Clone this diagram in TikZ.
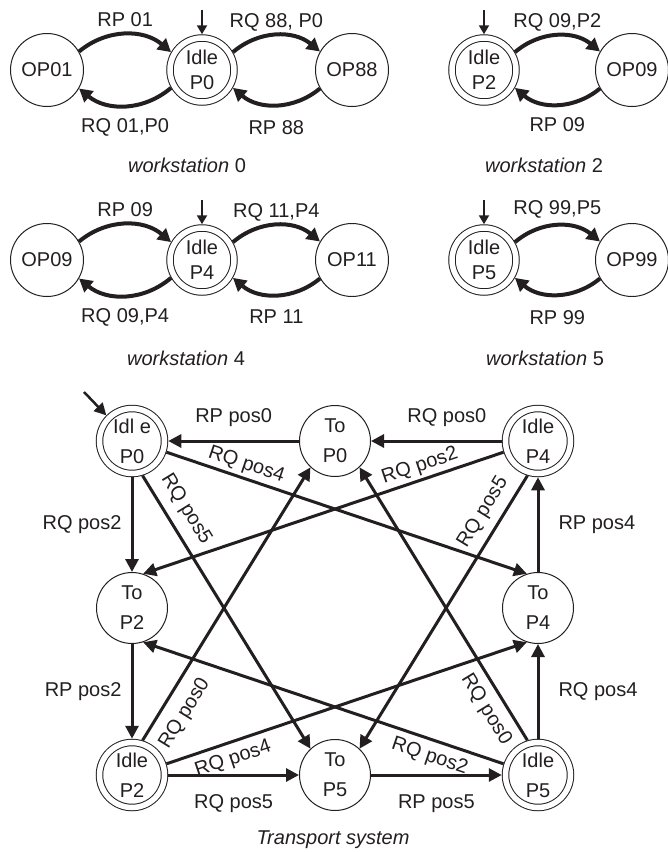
\documentclass[tikz,border=0pt]{standalone}
\usepackage{fontspec}
\setmainfont{Liberation Sans}
\usetikzlibrary{arrows.meta}
\definecolor{ink}{RGB}{35,31,32}

\begin{document}
\begin{tikzpicture}[x=1pt, y=-1pt,
  every node/.style={text=ink},
  opnode/.style={draw=ink, circle, line width=1pt, minimum size=73pt, inner sep=0pt, align=center, font=\fontsize{20}{25}\selectfont},
  idlenode/.style={opnode, double, double distance=5.5pt, minimum size=64pt, outer sep=3.75pt},
  tnode/.style={opnode, minimum size=71pt, font=\fontsize{20}{30}\selectfont},
  tidle/.style={idlenode, minimum size=65pt, font=\fontsize{20}{30}\selectfont},
  lbl/.style={font=\fontsize{20}{24}\selectfont, inner sep=1pt, text height=14.5pt, text depth=4pt},
  wscap/.style={font=\fontsize{20}{24}\selectfont},
  warr/.style={draw=ink, line width=4pt, -{Triangle[length=13pt,width=14pt]}},
  tarr/.style={draw=ink, line width=3pt, -{Triangle[length=13pt,width=13pt]}},
  startarr/.style={draw=ink, line width=2pt, -{Triangle[length=9pt,width=10pt]}}
]
\useasboundingbox (0,0) rectangle (668,852);

% workstation 0
\node[opnode] (w0op01) at (47,70) {OP01};
\node[idlenode] (w0idle) at (202,70) {Idle\\P0};
\node[opnode] (w0op88) at (352,70) {OP88};
\coordinate (w0in) at (202,10);
\draw[startarr] (w0in) -- (w0idle.north);
\draw[warr] (w0op01.30) to[bend left=40] node[lbl,above=1pt]{RP 01} (w0idle.150);
\draw[warr] (w0idle.210) to[bend left=40] node[lbl,below=9pt]{RQ 01,P0} (w0op01.-30);
\draw[warr] (w0idle.30) to[bend left=40] node[lbl,above=1pt]{RQ 88, P0} (w0op88.150);
\draw[warr] (w0op88.210) to[bend left=40] node[lbl,below=12pt]{RP 88} (w0idle.-30);
\node[wscap] (w0cap) at (187,165) {\textit{workstation} 0};

% workstation 2
\node[idlenode] (w2idle) at (484,70) {Idle\\P2};
\node[opnode] (w2op09) at (632,70) {OP09};
\coordinate (w2in) at (484,10);
\draw[startarr] (w2in) -- (w2idle.north);
\draw[warr] (w2idle.30) to[bend left=40] node[lbl,above=1pt]{RQ 09,P2} (w2op09.150);
\draw[warr] (w2op09.210) to[bend left=40] node[lbl,below=10pt]{RP 09} (w2idle.-30);
\node[wscap] (w2cap) at (544,165) {\textit{workstation} 2};

% workstation 4
\node[opnode] (w4op09) at (47,260) {OP09};
\node[idlenode] (w4idle) at (202,260) {Idle\\P4};
\node[opnode] (w4op11) at (352,260) {OP11};
\coordinate (w4in) at (202,200);
\draw[startarr] (w4in) -- (w4idle.north);
\draw[warr] (w4op09.30) to[bend left=40] node[lbl,above=1pt]{RP 09} (w4idle.150);
\draw[warr] (w4idle.210) to[bend left=40] node[lbl,below=9pt]{RQ 09,P4} (w4op09.-30);
\draw[warr] (w4idle.30) to[bend left=40] node[lbl,above=1pt]{RQ 11,P4} (w4op11.150);
\draw[warr] (w4op11.210) to[bend left=40] node[lbl,below=11pt]{RP 11} (w4idle.-30);
\node[wscap] (w4cap) at (186,358) {\textit{workstation} 4};

% workstation 5
\node[idlenode] (w5idle) at (484,260) {Idle\\P5};
\node[opnode] (w5op99) at (632,260) {OP99};
\coordinate (w5in) at (484,200);
\draw[startarr] (w5in) -- (w5idle.north);
\draw[warr] (w5idle.30) to[bend left=40] node[lbl,above=4pt]{RQ 99,P5} (w5op99.150);
\draw[warr] (w5op99.210) to[bend left=40] node[lbl,below=13pt]{RP 99} (w5idle.-30);
\node[wscap] (w5cap) at (545,358) {\textit{workstation} 5};

% transport system
\node[tidle] (t0idle) at (132,441) {Idl e\\P0};
\node[tnode] (t0to) at (335,441) {To\\P0};
\node[tidle] (t4idle) at (538,441) {Idle\\P4};
\node[tnode] (t2to) at (132,608) {To\\P2};
\node[tnode] (t4to) at (538,608) {To\\P4};
\node[tidle] (t2idle) at (132,775) {Idle\\P2};
\node[tnode] (t5to) at (335,775) {To\\P5};
\node[tidle] (t5idle) at (538,775) {Idle\\P5};
\coordinate (tin) at (84,392);
\draw[startarr, line width=2.5pt, -{Triangle[length=12pt,width=12pt]}] (tin) -- (t0idle.135);

\draw[tarr] (t0to) -- node[lbl,above=12pt]{RP pos0} (t0idle);
\draw[tarr] (t4idle) -- node[lbl,above=12pt,pos=0.42]{RQ pos0} (t0to);
\draw[tarr] (t0idle) -- node[lbl,left=8pt]{RQ pos2} (t2to);
\draw[tarr] (t2to) -- node[lbl,left=8pt]{RP pos2} (t2idle);
\draw[tarr] (t2idle) -- node[lbl,below=16pt]{RQ pos5} (t5to);
\draw[tarr] (t5to) -- node[lbl,below=16pt]{RP pos5} (t5idle);
\draw[tarr] (t5idle) -- node[lbl,right=18pt]{RQ pos4} (t4to);
\draw[tarr] (t4to) -- node[lbl,right=18pt]{RP pos4} (t4idle);

\draw[tarr] (t0idle.-18) -- node[lbl,sloped,above=2pt,pos=0.21]{RQ pos4} (t4to.108);
\draw[tarr] (t0idle.-73) -- node[lbl,sloped,above=8pt,pos=0.16]{RQ pos5} (t5to.133);
\draw[tarr] (t4idle.198) -- node[lbl,sloped,above=2pt,pos=0.22]{RQ pos2} (t2to.72);
\draw[tarr] (t4idle.-107) -- node[lbl,sloped,above=7pt,pos=0.17]{RQ pos5} (t5to.47);
\draw[tarr] (t2idle.73) -- node[lbl,sloped,below=10pt,pos=0.14]{RQ pos0} (t0to.227);
\draw[tarr] (t2idle.18) -- node[lbl,sloped,below=5pt,pos=0.17]{RQ pos4} (t4to.252);
\draw[tarr] (t5idle.107) -- node[lbl,sloped,below=7pt,pos=0.15]{RQ pos0} (t0to.-47);
\draw[tarr] (t5idle.162) -- node[lbl,sloped,below=5pt,pos=0.19]{RQ pos2} (t2to.-72);

\node[wscap] (tcap) at (333,840) {\textit{Transport system}};
\end{tikzpicture}
\end{document}
